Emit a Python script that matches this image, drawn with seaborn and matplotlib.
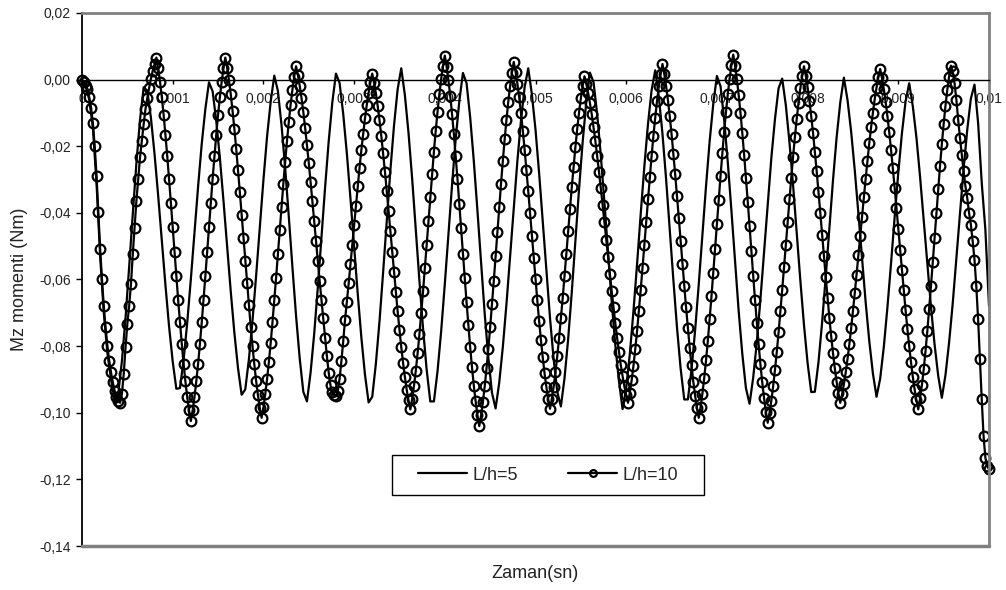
import numpy as np
import pandas as pd
import matplotlib
matplotlib.use("Agg")
import matplotlib.pyplot as plt
from matplotlib.patches import Rectangle
import seaborn as sns

# Mz moment samples in mNm (L/h=5 every 0.04 ms, L/h=10 every 0.02 ms, 0 .. 0.01 s)
mz_lh5_mNm = [
    0.0, -2.0, -6.0, -14.5, -31.0, -53.0, -70.0, -82.0, -90.0, -96.3, -94.2, -84.5, -71.5, -56.2, -40.3, -25.0, -12.0, -2.3,
    -3.3, -11.5, -22.4, -34.9, -48.2, -61.7, -74.1, -84.6, -92.8,
    -92.6, -84.2, -73.0, -59.9, -46.0, -32.1, -19.3, -8.8, -0.8,
    -3.5, -12.3, -23.5, -36.4, -50.0, -63.6, -76.0, -86.6, -94.6,
    -93.0, -84.0, -72.3, -58.8, -44.4, -30.2, -17.2, -6.7, 1.2,
    -3.4, -13.7, -26.5, -41.1, -56.3, -70.9, -83.6, -93.7,
    -96.6, -88.0, -76.3, -62.4, -47.4, -32.4, -18.5, -6.8, 1.8,
    -1.0, -10.3, -22.1, -35.7, -50.0, -64.3, -77.4, -88.6, -96.9,
    -95.2, -85.3, -72.6, -57.8, -42.4, -27.2, -13.8, -2.9,
    3.4, -4.7, -16.0, -29.7, -45.0, -60.3, -74.7, -87.1, -96.6,
    -96.6, -87.5, -75.5, -61.4, -46.5, -31.6, -17.8, -6.5, 2.0,
    -1.1, -11.4, -24.5, -39.4, -55.0, -70.3, -83.4, -94.0,
    -98.7, -91.0, -80.2, -67.3, -53.1, -38.5, -24.5, -12.3, -2.3,
    3.4, -4.4, -15.0, -28.1, -42.5, -57.3, -71.6, -83.9, -93.7,
    -98.1, -89.6, -77.9, -63.8, -48.4, -32.9, -18.7, -6.7, 2.1,
    -0.8, -10.4, -22.7, -36.9, -51.8, -66.6, -79.7, -90.5,
    -98.9, -92.5, -82.3, -69.5, -55.3, -40.3, -26.1, -13.4, -3.2,
    2.8, -5.2, -16.3, -29.9, -45.0, -60.1, -74.4, -86.7, -96.0,
    -96.0, -87.1, -75.2, -61.4, -46.8, -32.0, -18.5, -7.3, 1.1,
    -2.0, -12.0, -24.8, -39.3, -54.6, -69.5, -82.3, -92.6,
    -97.3, -89.5, -78.9, -65.9, -51.7, -37.3, -23.6, -11.9, -2.6,
    0.3, -7.7, -18.8, -31.7, -46.0, -60.3, -73.6, -85.1, -93.8,
    -93.7, -84.8, -72.9, -59.1, -44.6, -30.2, -17.3, -6.9, 0.6,
    -6.1, -15.6, -27.2, -40.2, -53.7, -66.8, -78.5, -88.2, -95.2,
    -89.8, -80.3, -68.4, -55.1, -41.2, -27.9, -16.1, -6.6,
    -1.1, -8.0, -17.4, -29.2, -42.1, -55.2, -68.1, -79.5, -88.9, -95.5,
    -88.7, -78.9, -67.2, -53.8, -40.0, -26.8, -15.1, -5.7,
    -1.5, -13.0, -31.0, -45.0, -68.0,
]

mz_lh10_mNm = [
    0.0, -0.8, -1.8, -2.7, -5.3, -8.4, -13.1, -19.8, -28.8, -39.8, -50.8, -59.8, -67.9, -74.4, -79.9, -84.4,
    -87.9, -90.9, -93.4, -95.4, -96.4, -97.0,
    -94.4, -88.4, -80.4, -73.3, -67.9, -61.3, -52.3, -44.4, -36.3, -29.8, -23.3, -18.3, -13.3, -8.8, -5.5,
    -2.5, 0.3, 2.7, 4.7, 6.6,
    3.4, -0.6, -5.3, -10.6, -16.6, -23.0, -29.8, -37.0, -44.3, -51.6, -59.0, -66.1, -72.9, -79.3, -85.3,
    -90.6, -95.3, -99.3, -102.5,
    -99.3, -95.3, -90.6, -85.3, -79.3, -72.9, -66.1, -59.0, -51.6, -44.3, -37.0, -29.8, -23.0, -16.6, -10.6,
    -5.3, -0.6, 3.4, 6.6,
    3.6, -0.1, -4.4, -9.4, -14.8, -20.7, -27.1, -33.7, -40.5, -47.5, -54.4, -61.2, -67.8, -74.2, -80.1,
    -85.5, -90.5, -94.8, -98.5, -101.5,
    -98.4, -94.5, -90.0, -84.8, -79.1, -72.9, -66.3, -59.4, -52.3, -45.2, -38.1, -31.2, -24.6, -18.4, -12.7,
    -7.5, -3.0, 0.9, 4.0,
    1.4, -1.8, -5.5, -9.7, -14.4, -19.5, -24.9, -30.6, -36.5, -42.5, -48.5, -54.5, -60.4, -66.1, -71.5,
    -77.5, -83.0, -88.0, -91.8, -93.8, -94.7,
    -95.0, -93.5, -89.8, -84.5, -78.5, -72.1, -66.8, -61.2, -55.4, -49.6, -43.6, -37.8, -32.0, -26.4, -21.1,
    -16.2, -11.6, -7.5, -3.9, -0.8, 1.8,
    -0.9, -4.1, -7.9, -12.2, -16.9, -22.1, -27.6, -33.4, -39.4, -45.5, -51.7, -57.8, -63.8, -69.6, -75.1,
    -80.3, -85.0, -89.3, -93.1, -96.3, -99.0,
    -95.9, -92.0, -87.4, -82.2, -76.5, -70.2, -63.6, -56.6, -49.5, -42.3, -35.2, -28.2, -21.6, -15.3, -9.6,
    -4.4, 0.2, 4.0, 7.2,
    3.9, -0.2, -4.9, -10.4, -16.4, -23.0, -29.9, -37.2, -44.6, -52.2, -59.6, -66.9, -73.8, -80.4, -86.4,
    -91.9, -96.6, -100.7, -104.0,
    -100.8, -96.8, -92.1, -86.7, -80.8, -74.4, -67.5, -60.4, -53.0, -45.7, -38.3, -31.2, -24.3, -17.9, -12.0,
    -6.6, -1.9, 2.1, 5.3,
    2.4, -1.2, -5.3, -10.1, -15.3, -21.0, -27.2, -33.5, -40.1, -46.8, -53.4, -60.0, -66.3, -72.5, -78.2,
    -83.4, -88.2, -92.3, -95.9, -98.8,
    -95.8, -92.2, -87.9, -83.0, -77.6, -71.7, -65.5, -59.0, -52.3, -45.5, -38.8, -32.3, -26.1, -20.2, -14.8,
    -9.9, -5.6, -2.0, 1.0,
    -1.3, -3.9, -7.0, -10.4, -14.3, -18.4, -22.9, -27.6, -32.5, -37.6, -42.8, -48.0, -53.2, -58.4, -63.5,
    -68.4, -73.1, -77.6, -81.7, -85.6, -89.0, -92.1, -94.7, -97.0,
    -94.0, -90.3, -85.9, -80.9, -75.4, -69.4, -63.1, -56.4, -49.6, -42.7, -35.9, -29.2, -22.9, -16.9, -11.4,
    -6.4, -2.0, 1.7, 4.7,
    1.7, -1.9, -6.1, -11.0, -16.3, -22.2, -28.4, -34.9, -41.6, -48.4, -55.2, -61.9, -68.4, -74.6, -80.5,
    -85.8, -90.7, -94.9, -98.5, -101.5,
    -98.3, -94.3, -89.6, -84.3, -78.4, -71.9, -65.1, -58.0, -50.7, -43.3, -36.0, -28.9, -22.1, -15.6, -9.7,
    -4.4, 0.3, 4.3, 7.5,
    4.2, 0.2, -4.6, -10.0, -16.0, -22.5, -29.4, -36.6, -44.0, -51.5, -58.9, -66.1, -73.0, -79.5, -85.5,
    -90.9, -95.7, -99.7, -103.0,
    -100.0, -96.4, -92.1, -87.2, -81.8, -75.9, -69.6, -63.1, -56.3, -49.5, -42.7, -35.9, -29.4, -23.1, -17.2,
    -11.8, -6.9, -2.6, 1.0, 4.0,
    1.2, -2.3, -6.3, -11.0, -16.0, -21.6, -27.5, -33.7, -40.0, -46.5, -53.0, -59.3, -65.5, -71.5, -77.0,
    -82.1, -86.7, -90.7, -94.2, -97.0,
    -94.5, -91.4, -87.9, -83.9, -79.5, -74.7, -69.5, -64.1, -58.5, -52.7, -46.9, -41.1, -35.3, -29.7, -24.3,
    -19.1, -14.3, -9.9, -5.9, -2.4, 0.7, 3.2,
    0.5, -2.8, -6.6, -11.0, -15.8, -21.0, -26.6, -32.5, -38.6, -44.8, -51.0, -57.2, -63.3, -69.2, -74.8,
    -80.0, -84.8, -89.2, -93.0, -96.3, -99.0,
    -95.7, -91.7, -87.0, -81.5, -75.5, -68.9, -62.0, -54.7, -47.4, -40.1, -32.8, -25.9, -19.4, -13.3, -7.9,
    -3.1, 0.9, 4.2,
    2.5, -1.0, -6.0, -12.0, -17.5, -22.5, -27.5, -32.0, -35.5, -40.0, -43.5, -48.5, -54.0, -62.0, -72.0,
    -84.0, -96.0, -107.0, -113.5, -116.0, -117.0,
]

series_labels = ["L/h=5", "L/h=10"]

x_tick_values = [0.0, 0.001, 0.002, 0.003, 0.004, 0.005, 0.006, 0.007, 0.008, 0.009, 0.01]
x_tick_labels = ["0", "0,001", "0,002", "0,003", "0,004", "0,005", "0,006", "0,007", "0,008", "0,009", "0,01"]
y_tick_values = [-0.14, -0.12, -0.10, -0.08, -0.06, -0.04, -0.02, 0.0, 0.02]
y_tick_labels = ["-0,14", "-0,12", "-0,10", "-0,08", "-0,06", "-0,04", "-0,02", "0,00", "0,02"]

sns.set_theme(style="white")
plt.rcParams["font.family"] = ["Liberation Sans", "DejaVu Sans"]

df5 = pd.DataFrame({
    "t": np.linspace(0.0, 0.01, len(mz_lh5_mNm)),
    "mz": np.asarray(mz_lh5_mNm) / 1000.0,
})
df10 = pd.DataFrame({
    "t": np.linspace(0.0, 0.01, len(mz_lh10_mNm)),
    "mz": np.asarray(mz_lh10_mNm) / 1000.0,
})

fig = plt.figure(figsize=(10.06, 5.90), dpi=100)
ax = fig.add_axes([82 / 1006, 44 / 590, 907 / 1006, 533 / 590])

sns.lineplot(data=df5, x="t", y="mz", ax=ax, color="black", linewidth=1.6,
             label=series_labels[0], estimator=None, sort=False, clip_on=False)
sns.lineplot(data=df10, x="t", y="mz", ax=ax, color="black", linewidth=1.6,
             marker="o", markersize=7, markerfacecolor="none",
             markeredgecolor="black", markeredgewidth=1.6,
             label=series_labels[1], estimator=None, sort=False, clip_on=False)

ax.set_xlim(0, 0.01)
ax.set_ylim(-0.14, 0.02)
ax.set_xticks(x_tick_values)
ax.set_xticklabels(x_tick_labels)
ax.set_yticks(y_tick_values)
ax.set_yticklabels(y_tick_labels)

# horizontal axis runs through zero; frame drawn in grey
ax.spines["bottom"].set_position(("data", 0.0))
ax.spines["bottom"].set_color("black")
ax.spines["bottom"].set_linewidth(1.0)
ax.spines["left"].set_color("black")
ax.spines["left"].set_linewidth(1.3)
for side in ("top", "right"):
    ax.spines[side].set_color("#808080")
    ax.spines[side].set_linewidth(2.0)
ax.axhline(-0.14, color="#808080", linewidth=2.5, clip_on=False, zorder=3)

ax.tick_params(axis="x", bottom=True, direction="out", length=3, width=1,
               color="black", pad=6, labelsize=10, labelcolor="#222222")
ax.tick_params(axis="y", left=True, direction="out", length=4, width=1,
               color="black", pad=4, labelsize=10, labelcolor="#222222")

ax.set_xlabel("Zaman(sn)", fontsize=13, color="#222222")
ax.xaxis.set_label_coords(0.5, -0.036)
ax.set_ylabel("Mz momenti (Nm)", fontsize=13, color="#222222", labelpad=8)

# legend box with wide side margins
ax.add_patch(Rectangle((0.3418, 0.0957), 0.344, 0.075, transform=ax.transAxes,
                       facecolor="white", edgecolor="black", linewidth=1.0,
                       zorder=4, clip_on=False))
leg = ax.legend(loc="center left", bbox_to_anchor=(0.3705, 0.1332), ncol=2,
                frameon=False, fontsize=13, handlelength=2.7, handletextpad=0.3,
                columnspacing=2.8, markerscale=0.7, borderpad=0.0, borderaxespad=0.0)
leg.set_zorder(5)

fig.savefig("out.png", dpi=100)
